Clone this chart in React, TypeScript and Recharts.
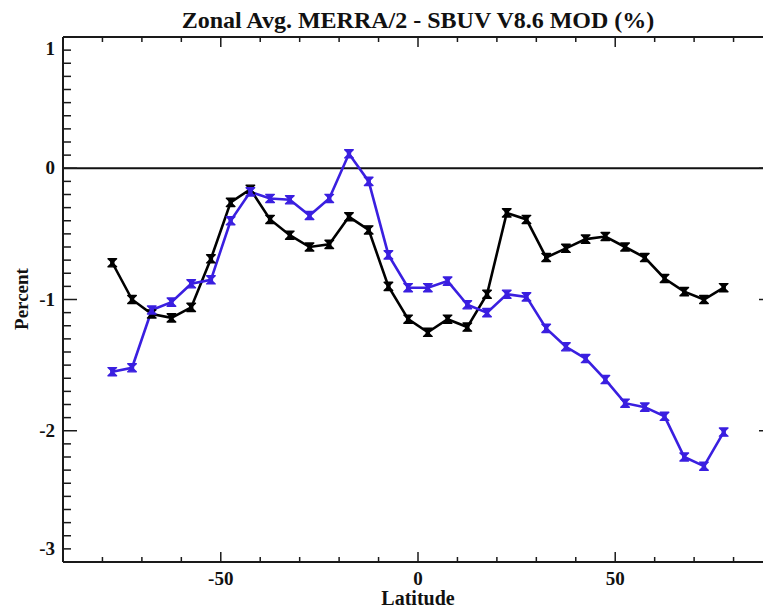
import React from 'react';
import { LineChart, Line, XAxis, YAxis, ReferenceLine } from 'recharts';

const latitudes = [
  -77.5, -72.5, -67.5, -62.5, -57.5, -52.5, -47.5, -42.5, -37.5, -32.5, -27.5, -22.5,
  -17.5, -12.5, -7.5, -2.5, 2.5, 7.5, 12.5, 17.5, 22.5, 27.5, 32.5, 37.5, 42.5, 47.5,
  52.5, 57.5, 62.5, 67.5, 72.5, 77.5,
];
const seriesBlack = [
  -0.72, -1.0, -1.11, -1.14, -1.06, -0.69, -0.26, -0.16, -0.39, -0.51, -0.6, -0.58,
  -0.37, -0.47, -0.9, -1.15, -1.25, -1.15, -1.21, -0.96, -0.34, -0.39, -0.68, -0.61,
  -0.54, -0.52, -0.6, -0.68, -0.84, -0.94, -1.0, -0.91,
];
const seriesBlue = [
  -1.55, -1.52, -1.08, -1.02, -0.88, -0.85, -0.4, -0.18, -0.23, -0.24, -0.36, -0.23,
  0.11, -0.1, -0.66, -0.91, -0.91, -0.86, -1.04, -1.1, -0.96, -0.98, -1.22, -1.36,
  -1.45, -1.61, -1.79, -1.82, -1.89, -2.2, -2.27, -2.01,
];
const xTicks = [-90, -80, -70, -60, -50, -40, -30, -20, -10, 0, 10, 20, 30, 40, 50, 60, 70, 80, 90];
const xLabelTicks = [-50, 0, 50];
const yMajorTicks = [-3, -2, -1, 0, 1];
const yTicks = Array.from({ length: 41 }, (_, i) => (i - 30) / 10);

const title = 'Zonal Avg. MERRA/2 - SBUV V8.6 MOD (%)';
const xTitle = 'Latitude';
const yTitle = 'Percent';

const data = latitudes.map((lat, i) => ({ lat, black: seriesBlack[i], blue: seriesBlue[i] }));

const FONT = '"Liberation Serif", "Times New Roman", serif';
const AXIS = '#1a1a1a';
const BLUE = '#3a1fe0';

const isMajorY = (v: number) => yMajorTicks.some((m) => Math.abs(m - v) < 1e-6);

const BottomTick = (props: any) => {
  const { x, y, payload } = props;
  const v = payload.value;
  const major = xLabelTicks.includes(v);
  return (
    <g>
      <line x1={x} y1={y} x2={x} y2={y - (major ? 10 : 5)} stroke={AXIS} strokeWidth={1.5} />
      {major && (
        <text x={x} y={y + 23} textAnchor="middle" fontFamily={FONT} fontWeight="bold" fontSize={19} fill="#111">
          {String(v)}
        </text>
      )}
    </g>
  );
};

const TopTick = (props: any) => {
  const { x, y, payload } = props;
  const major = xLabelTicks.includes(payload.value);
  return <line x1={x} y1={y} x2={x} y2={y + (major ? 10 : 5)} stroke={AXIS} strokeWidth={1.5} />;
};

const LeftTick = (props: any) => {
  const { x, y, payload } = props;
  const v = payload.value;
  const major = isMajorY(v);
  let ly = y + 6;
  if (Math.abs(v - 1) < 1e-6) ly = y + 18;
  if (Math.abs(v + 3) < 1e-6) ly = y - 7;
  return (
    <g>
      <line x1={x} y1={y} x2={x + (major ? 14 : 8)} y2={y} stroke={AXIS} strokeWidth={1.5} />
      {major && (
        <text x={x - 8} y={ly} textAnchor="end" fontFamily={FONT} fontWeight="bold" fontSize={19} fill="#111">
          {String(Math.round(v))}
        </text>
      )}
    </g>
  );
};

const RightTick = (props: any) => {
  const { x, y, payload } = props;
  const major = isMajorY(payload.value);
  return <line x1={x} y1={y} x2={x - (major ? 14 : 8)} y2={y} stroke={AXIS} strokeWidth={1.5} />;
};

const makeDot = (color: string) => (props: any) => {
  const { cx, cy, index } = props;
  if (cx == null || cy == null) return <g key={`d-${index}`} />;
  const w = 4.3;
  const h = 4.1;
  const d = `M${cx - w},${cy - h} L${cx + w},${cy - h} L${cx - w},${cy + h} L${cx + w},${cy + h} Z`;
  return (
    <g key={`d-${index}`}>
      <path d={d} fill={color} stroke={color} strokeWidth={1.4} strokeLinejoin="round" />
      <rect x={cx - 2.2} y={cy - 2.2} width={4.4} height={4.4} fill={color} />
    </g>
  );
};

export default function App() {
  return (
    <div style={{ position: 'absolute', left: 0, top: 0, width: 763, height: 612, overflow: 'hidden', background: '#fff' }}>
      <LineChart width={800} height={612} data={data} margin={{ top: 0, right: 0, bottom: 0, left: 0 }}>
        <XAxis
          dataKey="lat"
          type="number"
          domain={[-90, 90]}
          ticks={xTicks}
          interval={0}
          tickSize={0}
          tickMargin={0}
          tickLine={false}
          tick={<BottomTick />}
          height={50}
          axisLine={{ stroke: AXIS, strokeWidth: 2 }}
        />
        <XAxis
          xAxisId="top"
          orientation="top"
          dataKey="lat"
          type="number"
          domain={[-90, 90]}
          ticks={xTicks}
          interval={0}
          tickSize={0}
          tickMargin={0}
          tickLine={false}
          tick={<TopTick />}
          height={37}
          axisLine={{ stroke: AXIS, strokeWidth: 2 }}
        />
        <YAxis
          type="number"
          domain={[-3, 1]}
          ticks={yTicks}
          interval={0}
          tickSize={0}
          tickMargin={0}
          tickLine={false}
          tick={<LeftTick />}
          width={63}
          axisLine={{ stroke: AXIS, strokeWidth: 2 }}
          allowDataOverflow
        />
        <YAxis
          yAxisId="right"
          orientation="right"
          type="number"
          domain={[-3, 1]}
          ticks={yTicks}
          interval={0}
          tickSize={0}
          tickMargin={0}
          tickLine={false}
          tick={<RightTick />}
          width={27}
          axisLine={{ stroke: AXIS, strokeWidth: 2 }}
          allowDataOverflow
        />
        <ReferenceLine y={0} stroke="#111" strokeWidth={1.8} />
        <Line
          type="linear"
          dataKey="black"
          stroke="#000"
          strokeWidth={2.6}
          dot={makeDot('#000')}
          activeDot={false}
          isAnimationActive={false}
        />
        <Line
          type="linear"
          dataKey="blue"
          stroke={BLUE}
          strokeWidth={2.6}
          dot={makeDot(BLUE)}
          activeDot={false}
          isAnimationActive={false}
        />
      </LineChart>
      <svg width={763} height={612} style={{ position: 'absolute', left: 0, top: 0, pointerEvents: 'none' }}>
        <text x={418} y={28} textAnchor="middle" fontFamily={FONT} fontWeight="bold" fontSize={24} fill="#111">
          {title}
        </text>
        <text x={418} y={605} textAnchor="middle" fontFamily={FONT} fontWeight="bold" fontSize={20} fill="#111">
          {xTitle}
        </text>
        <text
          x={28}
          y={299}
          textAnchor="middle"
          fontFamily={FONT}
          fontWeight="bold"
          fontSize={19}
          fill="#111"
          transform="rotate(-90 28 299)"
        >
          {yTitle}
        </text>
      </svg>
    </div>
  );
}
